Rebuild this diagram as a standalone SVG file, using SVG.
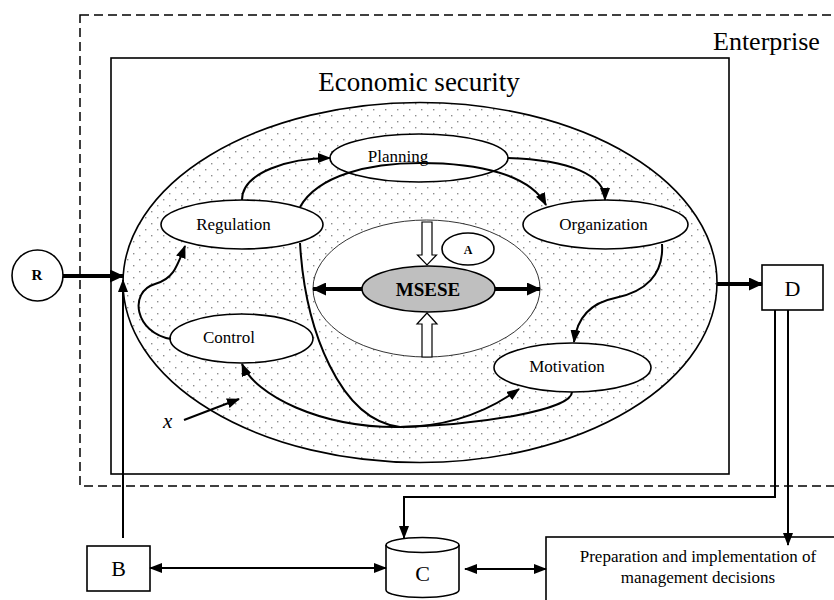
<svg xmlns="http://www.w3.org/2000/svg" width="834" height="600" viewBox="0 0 834 600" font-family="'Liberation Serif', 'Times New Roman', serif">
<defs>
<pattern id="dots" width="12" height="12" patternUnits="userSpaceOnUse">
<rect x="1" y="1" width="1.4" height="1.4" fill="#8c8c8c"/>
<rect x="7" y="7" width="1.4" height="1.4" fill="#8c8c8c"/>
</pattern>
<marker id="ah" markerUnits="userSpaceOnUse" markerWidth="13" markerHeight="10" refX="12" refY="5" orient="auto-start-reverse" viewBox="0 0 13 10">
<path d="M0,0 L13,5 L0,10 z" fill="#000"/>
</marker>
<marker id="ahT" markerUnits="userSpaceOnUse" markerWidth="14" markerHeight="13" refX="13" refY="6.5" orient="auto" viewBox="0 0 14 13">
<path d="M0,0 L14,6.5 L0,13 z" fill="#000"/>
</marker>
</defs>
<style>
.ln{fill:none;stroke:#000;stroke-width:2}
.thk{fill:none;stroke:#000;stroke-width:4}
.nd{fill:#fff;stroke:#000;stroke-width:1.6}
text{font-family:"Liberation Serif","Times New Roman",serif;fill:#000}
.lbl{font-size:17px;text-anchor:middle}
.box{fill:#fff;stroke:#000;stroke-width:1.6}
</style>
<rect width="834" height="600" fill="#fff"/>

<g id="enterprise">
<rect x="80" y="15" width="800" height="471" fill="none" stroke="#000" stroke-width="1.5" stroke-dasharray="9,5"/>
<text x="713" y="50" font-size="26" font-family="Liberation Serif, serif">Enterprise</text>
</g>

<g id="economic-security">
<rect x="111" y="58" width="618" height="416" fill="none" stroke="#000" stroke-width="1.6"/>
<text x="419" y="91" font-size="27" text-anchor="middle" font-family="Liberation Serif, serif">Economic security</text>
<ellipse cx="420" cy="282.5" rx="297" ry="180" fill="url(#dots)" stroke="#000" stroke-width="1.6"/>
</g>

<g id="core">
<ellipse cx="426.5" cy="288.5" rx="113.5" ry="68.5" fill="#fff" stroke="#000" stroke-width="0.8"/>
<polygon points="422,222 432,222 432,255 436.5,255 427,265 417.5,255 422,255" fill="#fff" stroke="#000" stroke-width="1.2"/>
<polygon points="422,357 432,357 432,324 437,324 427,313 417,324 422,324" fill="#fff" stroke="#000" stroke-width="1.2"/>
</g>

<g id="A">
<ellipse cx="468" cy="249" rx="26" ry="16" class="nd" stroke-width="1.2"/>
<text x="468" y="254" font-size="12" font-weight="bold" text-anchor="middle" font-family="Liberation Serif, serif">A</text>
</g>

<g id="MSESE">
<ellipse cx="428.5" cy="289" rx="66.5" ry="23" fill="#bfbfbf" stroke="#000" stroke-width="1.6"/>
<text x="428" y="296" font-size="19" font-weight="bold" text-anchor="middle" font-family="Liberation Serif, serif">MSESE</text>
</g>

<g id="Planning">
<ellipse cx="419" cy="158" rx="89" ry="24" class="nd"/>
<text class="lbl" x="398" y="162" font-family="Liberation Serif, serif">Planning</text>
</g>
<g id="Regulation">
<ellipse cx="242" cy="224.5" rx="81" ry="24.5" class="nd"/>
<text class="lbl" x="233.5" y="230" font-family="Liberation Serif, serif">Regulation</text>
</g>
<g id="Organization">
<ellipse cx="605.5" cy="224.5" rx="82.5" ry="24.5" class="nd"/>
<text class="lbl" x="603.5" y="230" font-family="Liberation Serif, serif">Organization</text>
</g>
<g id="Control">
<ellipse cx="241.5" cy="338.5" rx="71.5" ry="24.5" class="nd"/>
<text class="lbl" x="229" y="343" font-family="Liberation Serif, serif">Control</text>
</g>
<g id="Motivation">
<ellipse cx="572.5" cy="367.5" rx="78.5" ry="24.5" class="nd"/>
<text class="lbl" x="567" y="372" font-family="Liberation Serif, serif">Motivation</text>
</g>

<g id="R">
<circle cx="37.5" cy="275.5" r="25.5" class="nd"/>
<text x="37" y="280" font-size="15" font-weight="bold" text-anchor="middle" font-family="Liberation Serif, serif">R</text>
</g>
<g id="D">
<rect x="762" y="265" width="61" height="45" class="box"/>
<text x="792.5" y="296" font-size="22" text-anchor="middle" font-family="Liberation Serif, serif">D</text>
</g>
<g id="B">
<rect x="87" y="546" width="63" height="45" class="box"/>
<text x="118.5" y="576" font-size="22" text-anchor="middle" font-family="Liberation Serif, serif">B</text>
</g>
<g id="C">
<path d="M386,545 A36.5,7.5 0 0 1 459,545 V590 A36.5,7.5 0 0 1 386,590 Z" class="box"/>
<path d="M386,545 A36.5,7.5 0 0 0 459,545" fill="none" stroke="#000" stroke-width="1.6"/>
<text x="422.5" y="581" font-size="22" text-anchor="middle" font-family="Liberation Serif, serif">C</text>
</g>
<g id="decisions">
<rect x="546" y="537" width="300" height="80" class="box"/>
<text x="698" y="562" font-size="17" text-anchor="middle" font-family="Liberation Serif, serif">Preparation and implementation of</text>
<text x="698" y="583" font-size="17" text-anchor="middle" font-family="Liberation Serif, serif">management decisions</text>
</g>

<g id="x-label">
<text x="163" y="428" font-size="21" font-style="italic" font-family="Liberation Serif, serif">x</text>
</g>

<g id="connectors">
<path class="ln" d="M242,200 C242,172 290,158 330,158" marker-end="url(#ah)"/>
<path class="ln" d="M508,158 C570,160 605,175 605,200" marker-end="url(#ah)"/>
<path class="ln" d="M300,207 C318,175 370,163 420,163 C480,163 530,175 546,205" marker-end="url(#ah)"/>
<path class="ln" d="M662,244 C664,275 645,292 615,298 C590,303 577,318 574,342" marker-end="url(#ah)"/>
<path class="ln" d="M171,339 C135,333 128,292 155,284 C172,279 176,270 185,246" marker-end="url(#ah)"/>
<path class="ln" d="M300,243 C305,330 340,420 400,427 C450,427 490,410 519,389" marker-end="url(#ah)"/>
<path class="ln" d="M572,392 C572,410 480,425 400,427 C320,428 255,395 242,364" marker-end="url(#ah)"/>
<path class="ln" d="M184,420 L239,399" marker-end="url(#ah)"/>
<path class="thk" d="M362,289 L313,289" marker-end="url(#ahT)"/>
<path class="thk" d="M495,289 L540,289" marker-end="url(#ahT)"/>
<path class="thk" d="M63,276 L123,276" marker-end="url(#ahT)"/>
<path class="thk" d="M717,284 L762,284" marker-end="url(#ahT)"/>
<path class="ln" d="M123,538 L123,280" marker-end="url(#ah)"/>
<path class="ln" d="M775,310 V497 H404 V538" marker-end="url(#ah)"/>
<path class="ln" d="M788,310 V545" marker-end="url(#ah)"/>
<path class="ln" d="M150,568 L386,568" marker-start="url(#ah)" marker-end="url(#ah)"/>
<path class="ln" d="M465,569 L546,569" marker-start="url(#ah)" marker-end="url(#ah)"/>
</g>
</svg>
